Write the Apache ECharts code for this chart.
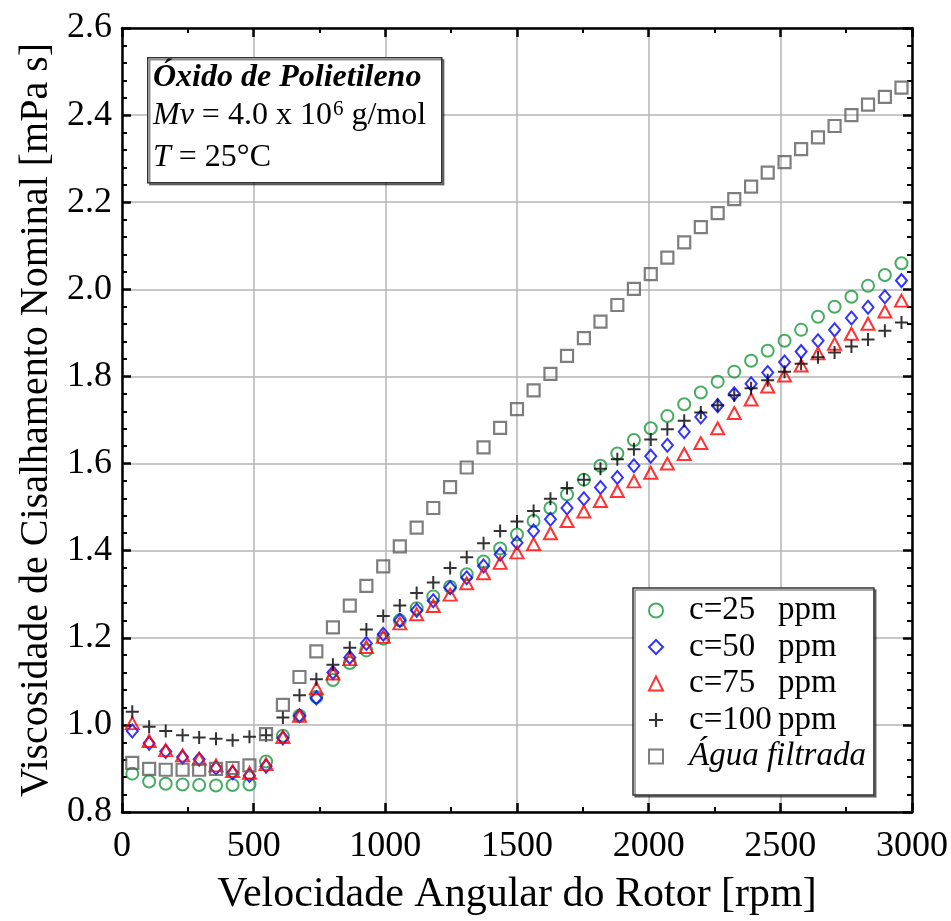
<!DOCTYPE html>
<html>
<head>
<meta charset="utf-8">
<script src="https://cdn.jsdelivr.net/npm/echarts@6/dist/echarts.min.js"></script>
<style>html,body{margin:0;padding:0;background:#fff;}#chart{width:951px;height:921px;}</style>
</head>
<body>
<div id="chart"></div>
<script>
// Rotor speed [rpm]
const rpm = [39,103,166,230,293,357,420,484,547,611,674,738,801,865,928,992,1055,1119,1182,1246,1309,1373,1436,1500,1563,1627,1690,1754,1817,1881,1944,2008,2071,2135,2198,2262,2325,2389,2452,2516,2579,2643,2706,2770,2833,2897,2960];
// Nominal shear viscosity [mPa s]
const c25 = [0.888,0.870,0.865,0.863,0.862,0.861,0.862,0.863,0.916,0.975,1.021,1.064,1.103,1.142,1.171,1.198,1.240,1.268,1.295,1.317,1.346,1.375,1.405,1.437,1.468,1.498,1.529,1.563,1.595,1.623,1.654,1.681,1.709,1.736,1.763,1.788,1.811,1.836,1.859,1.882,1.907,1.937,1.960,1.983,2.008,2.033,2.060];
const c50 = [0.986,0.958,0.939,0.926,0.921,0.901,0.890,0.884,0.905,0.970,1.021,1.062,1.120,1.155,1.187,1.208,1.240,1.263,1.285,1.315,1.338,1.365,1.392,1.418,1.445,1.472,1.498,1.519,1.545,1.568,1.595,1.617,1.642,1.673,1.707,1.733,1.760,1.783,1.809,1.833,1.857,1.882,1.907,1.934,1.959,1.983,2.020];
const c75 = [1.004,0.963,0.942,0.930,0.922,0.907,0.894,0.890,0.910,0.972,1.021,1.084,1.118,1.151,1.179,1.202,1.233,1.254,1.273,1.299,1.325,1.348,1.372,1.396,1.415,1.440,1.468,1.490,1.514,1.537,1.559,1.579,1.600,1.622,1.647,1.681,1.716,1.747,1.777,1.802,1.825,1.853,1.875,1.898,1.921,1.949,1.974];
const c100 = [1.030,0.996,0.986,0.976,0.971,0.968,0.965,0.973,0.976,1.017,1.068,1.105,1.138,1.177,1.219,1.250,1.274,1.303,1.327,1.360,1.385,1.417,1.445,1.467,1.491,1.519,1.544,1.563,1.588,1.610,1.633,1.655,1.679,1.698,1.717,1.734,1.757,1.773,1.791,1.811,1.829,1.844,1.855,1.869,1.885,1.905,1.924];
const agua = [0.913,0.899,0.897,0.897,0.897,0.899,0.901,0.907,0.979,1.046,1.110,1.169,1.224,1.274,1.319,1.364,1.410,1.453,1.498,1.546,1.591,1.637,1.682,1.725,1.768,1.806,1.847,1.888,1.926,1.964,2.001,2.035,2.073,2.108,2.143,2.175,2.207,2.236,2.268,2.292,2.322,2.349,2.375,2.400,2.424,2.442,2.463];
// Labels
const seriesNames = ['c=25', 'c=50', 'c=75', 'c=100', 'Água filtrada'];
const xTitle = 'Velocidade Angular do Rotor [rpm]';
const yTitle = 'Viscosidade de Cisalhamento Nominal [mPa s]';

const FONT = 'Liberation Serif';
const pair = arr => rpm.map((x, i) => [x, arr[i]]);
const PLUS = 'path://M5.5,0H7.5V5.5H13V7.5H7.5V13H5.5V7.5H0V5.5H5.5Z';

const chart = echarts.init(document.getElementById('chart'));

function axisCommon(showLabel) {
  return {
    axisLine: { show: true, onZero: false, lineStyle: { color: '#000', width: 2.5 } },
    axisTick: { show: true, inside: true, length: 9, lineStyle: { color: '#000', width: 2.5 } },
    minorTick: { show: true, length: 5, lineStyle: { color: '#000', width: 2 } },
    axisLabel: { show: showLabel, color: '#000', fontFamily: FONT, fontSize: 36 },
  };
}

const option = {
  backgroundColor: '#fff',
  animation: false,
  grid: { left: 122, right: 39, top: 28, bottom: 103, containLabel: false },
  xAxis: [
    Object.assign(axisCommon(true), {
      type: 'value', min: 0, max: 3000, interval: 500, position: 'bottom',
      name: xTitle, nameLocation: 'middle', nameGap: 62,
      nameTextStyle: { color: '#000', fontFamily: FONT, fontSize: 42 },
      splitLine: { show: true, lineStyle: { color: '#b4b4b4', width: 1.5 } },
    }),
    Object.assign(axisCommon(false), {
      type: 'value', min: 0, max: 3000, interval: 500, position: 'top',
      splitLine: { show: false },
    }),
  ],
  yAxis: [
    Object.assign(axisCommon(true), {
      type: 'value', min: 0.8, max: 2.6, interval: 0.2, position: 'left',
      name: yTitle, nameLocation: 'middle', nameGap: 66, nameRotate: 90,
      nameTextStyle: { color: '#000', fontFamily: FONT, fontSize: 40 },
      splitLine: { show: true, lineStyle: { color: '#b4b4b4', width: 1.5 } },
    }),
    Object.assign(axisCommon(false), {
      type: 'value', min: 0.8, max: 2.6, interval: 0.2, position: 'right',
      splitLine: { show: false },
    }),
  ],
  legend: {
    orient: 'vertical', left: 633, top: 588,
    padding: [6, 8, 22, 15], itemGap: 3.5, itemWidth: 14, itemHeight: 14,
    backgroundColor: '#fff', borderColor: '#333', borderWidth: 1.5,
    shadowColor: 'rgba(0,0,0,0.45)', shadowOffsetX: 2, shadowOffsetY: 2,
    data: seriesNames,
    formatter: function (name) {
      if (name === 'Água filtrada') return '{s|}{it|' + name + '}';
      return '{s|}{a|' + name + '}{b|ppm}';
    },
    textStyle: {
      color: '#000', fontFamily: FONT, fontSize: 33, lineHeight: 33,
      rich: {
        s: { width: 21 },
        a: { width: 89, fontFamily: FONT, fontSize: 33, color: '#000' },
        b: { fontFamily: FONT, fontSize: 33, color: '#000' },
        it: { fontFamily: FONT, fontSize: 33, fontStyle: 'italic', color: '#000' },
      },
    },
  },
  graphic: [
    {
      type: 'rect', left: 147, top: 57, z: 100,
      shape: { width: 294, height: 125 },
      style: { fill: '#fff', stroke: '#333', lineWidth: 1.5, shadowColor: 'rgba(0,0,0,0.45)', shadowOffsetX: 2, shadowOffsetY: 2 },
    },
    {
      type: 'text', left: 153, top: 62, z: 101,
      style: { text: 'Óxido de Polietileno', font: 'italic bold 32px "Liberation Serif"', fill: '#000' },
    },
    {
      type: 'text', left: 153, top: 99, z: 101,
      style: {
        text: '{i|Mv} = 4.0 x 10{sup|6} g/mol',
        font: '32px "Liberation Serif"', fill: '#000',
        rich: {
          i: { fontStyle: 'italic', fontFamily: FONT, fontSize: 32 },
          sup: { fontFamily: FONT, fontSize: 21, verticalAlign: 'top', padding: [0, 0, 12, 1] },
        },
      },
    },
    {
      type: 'text', left: 153, top: 142, z: 101,
      style: {
        text: '{i|T} = 25°C',
        font: '32px "Liberation Serif"', fill: '#000',
        rich: { i: { fontStyle: 'italic', fontFamily: FONT, fontSize: 32 } },
      },
    },
  ],
  series: [
    {
      name: seriesNames[0], type: 'scatter', data: pair(c25), symbol: 'circle', symbolSize: 12,
      itemStyle: { color: 'rgba(0,0,0,0)', borderColor: '#17993a', borderWidth: 2 },
    },
    {
      name: seriesNames[1], type: 'scatter', data: pair(c50), symbol: 'diamond', symbolSize: [11, 13],
      itemStyle: { color: 'rgba(0,0,0,0)', borderColor: '#0000ff', borderWidth: 2 },
    },
    {
      name: seriesNames[2], type: 'scatter', data: pair(c75), symbol: 'triangle', symbolSize: [13, 12],
      itemStyle: { color: 'rgba(0,0,0,0)', borderColor: '#ff0000', borderWidth: 2 },
    },
    {
      name: seriesNames[3], type: 'scatter', data: pair(c100), symbol: PLUS, symbolSize: 13,
      itemStyle: { color: '#000', borderWidth: 0 },
    },
    {
      name: seriesNames[4], type: 'scatter', data: pair(agua), symbol: 'rect', symbolSize: 12,
      itemStyle: { color: 'rgba(0,0,0,0)', borderColor: '#5e5e5e', borderWidth: 2.2 },
    },
  ],
};
option.yAxis[0].axisLabel.formatter = v => v.toFixed(1);
option.yAxis[0].axisLabel.margin = 10;
option.xAxis[0].axisLabel.formatter = v => String(v);
option.xAxis[0].axisLabel.margin = 17;
option.yAxis[0].minorTick.splitNumber = 5;
option.yAxis[1].minorTick.splitNumber = 5;
option.xAxis[0].minorTick.splitNumber = 2;
option.xAxis[1].minorTick.splitNumber = 2;
chart.setOption(option);
</script>
</body>
</html>
